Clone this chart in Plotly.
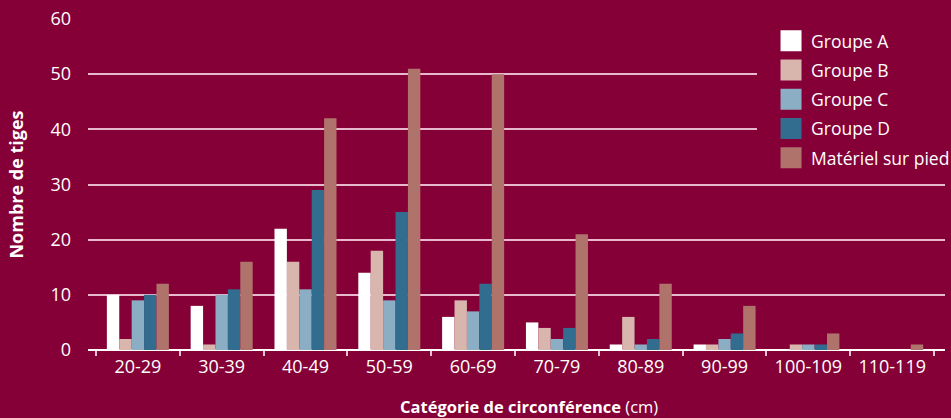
import plotly.graph_objects as go

categories = ["20-29", "30-39", "40-49", "50-59", "60-69", "70-79", "80-89", "90-99", "100-109", "110-119"]
groupe_a = [10, 8, 22, 14, 6, 5, 1, 1, 0, 0]
groupe_b = [2, 1, 16, 18, 9, 4, 6, 1, 1, 0]
groupe_c = [9, 10, 11, 9, 7, 2, 1, 2, 1, 0]
groupe_d = [10, 11, 29, 25, 12, 4, 2, 3, 1, 0]
materiel = [12, 16, 42, 51, 50, 21, 12, 8, 3, 1]
series_names = ["Groupe A", "Groupe B", "Groupe C", "Groupe D", "Matériel sur pied"]
y_ticks = [0, 10, 20, 30, 40, 50, 60]

colors = ["#FFFFFF", "#D8B6AE", "#8BAEC4", "#326C8E", "#B0736B"]
BG = "#850037"
FONT = "Open Sans"

fig = go.Figure()
for name, vals, col in zip(series_names, [groupe_a, groupe_b, groupe_c, groupe_d, materiel], colors):
    fig.add_trace(go.Bar(x=categories, y=vals, name=name, marker=dict(color=col, line=dict(width=0)),
                         showlegend=False))
# legend-only markers (larger squares)
for name, col in zip(series_names, colors):
    fig.add_trace(go.Scatter(x=[None], y=[None], mode="markers", name=name, legendgroup=name,
                             marker=dict(symbol="square", size=16, color=col, line=dict(color=col, width=5))))

fig.update_layout(
    template="none",
    width=951, height=418,
    paper_bgcolor=BG, plot_bgcolor=BG,
    margin=dict(l=88, r=6, t=19, b=68, pad=0, autoexpand=False),
    barmode="group", bargap=0.26, bargroupgap=0,
    font=dict(family=FONT, color="white", size=17),
    showlegend=True,
    legend=dict(x=0.797, xanchor="left", y=0.988, yanchor="top", bgcolor=BG, borderwidth=0,
                font=dict(family=FONT, size=17.5, color="white"), tracegroupgap=3.5,
                itemclick=False),
    xaxis=dict(type="category", range=[-0.595, 9.63], tickson="boundaries", ticks="outside",
               ticklen=5, tickwidth=1.5, tickcolor="#E8C0D0", showgrid=False, zeroline=False,
               showline=False, tickfont=dict(size=18, color="white"), ticklabelstandoff=4),
    yaxis=dict(range=[0, 60], tickvals=y_ticks, showgrid=True, gridcolor="#E8B9CC", gridwidth=2,
               zeroline=True, zerolinecolor="white", zerolinewidth=2, ticks="", showline=False,
               tickfont=dict(size=18, color="white"), ticklabelstandoff=16,
               title=dict(text="<b>Nombre de tiges</b>", font=dict(size=18, color="white"), standoff=22)),
    annotations=[dict(text="<b>Catégorie de circonférence</b> (cm)", xref="paper", yref="paper",
                      x=0.5146, y=0, yshift=-56, xanchor="center", yanchor="middle", showarrow=False,
                      font=dict(family=FONT, size=16.5, color="white"))],
    shapes=[dict(type="rect", xref="paper", yref="paper", x0=0.7806, x1=0.7995, y0=0.544, y1=0.982,
                 fillcolor=BG, line=dict(width=0), layer="above")],
)

fig.write_html("out.html")
